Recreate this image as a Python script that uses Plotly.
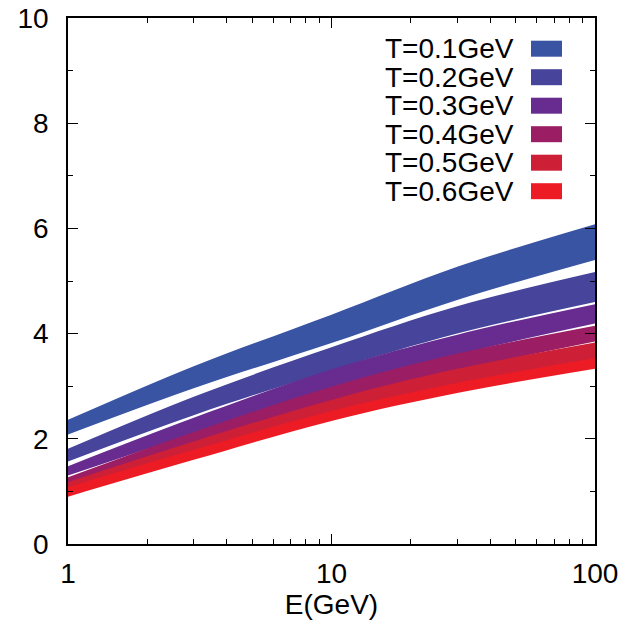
import plotly.graph_objects as go

E = [1, 3, 10, 30, 100]

labels = ["T=0.1GeV", "T=0.2GeV", "T=0.3GeV", "T=0.4GeV", "T=0.5GeV", "T=0.6GeV"]
colors = ["rgb(58,84,164)", "rgb(70,68,155)", "rgb(104,44,145)",
          "rgb(155,30,100)", "rgb(205,32,55)", "rgb(237,28,36)"]

top_01 = [2.36, 3.38, 4.36, 5.27, 6.08]
bot_01 = [2.08, 2.96, 3.82, 4.64, 5.40]
top_02 = [1.81, 2.80, 3.74, 4.52, 5.17]
bot_02 = [1.57, 2.45, 3.30, 4.00, 4.60]
top_03 = [1.48, 2.40, 3.32, 3.98, 4.56]
bot_03 = [1.30, 2.10, 2.95, 3.60, 4.19]
top_04 = [1.27, 2.13, 2.99, 3.62, 4.15]
bot_04 = [1.10, 1.90, 2.72, 3.30, 3.85]
top_05 = [1.18, 1.95, 2.74, 3.33, 3.83]
bot_05 = [1.00, 1.74, 2.48, 3.02, 3.48]
top_06 = [1.08, 1.79, 2.53, 3.06, 3.53]
bot_06 = [0.90, 1.60, 2.34, 2.87, 3.33]

tops = [top_01, top_02, top_03, top_04, top_05, top_06]
bots = [bot_01, bot_02, bot_03, bot_04, bot_05, bot_06]

FONT = "Liberation Sans, Arial, sans-serif"
fig = go.Figure()
for lab, col, t, b in zip(labels, colors, tops, bots):
    fig.add_trace(go.Scatter(x=E, y=t, mode="lines", line=dict(width=0, shape="spline", color=col),
                             showlegend=False, hoverinfo="skip"))
    fig.add_trace(go.Scatter(x=E, y=b, mode="lines", line=dict(width=0, shape="spline", color=col),
                             fill="tonexty", fillcolor=col, name=lab, showlegend=False))

# legend (text left of swatch, like the original)
row_h = 28.5 / 526.0
y0 = (544 - 48.7) / 526.0
sw_h = 16 / 526.0
for i, (lab, col) in enumerate(zip(labels, colors)):
    yc = y0 - i * row_h
    fig.add_annotation(x=(516 - 68) / 527.0, y=yc, xref="paper", yref="paper", text=lab,
                       showarrow=False, xanchor="right", yanchor="middle",
                       font=dict(family=FONT, size=28, color="black"))
    fig.add_shape(type="rect", xref="paper", yref="paper",
                  x0=(531 - 68) / 527.0, x1=(562 - 68) / 527.0,
                  y0=yc - sw_h / 2, y1=yc + sw_h / 2, fillcolor=col, line=dict(width=0))

axis_common = dict(showline=True, linecolor="black", linewidth=1.5, mirror="ticks",
                   ticks="inside", ticklen=10, tickwidth=1.3, tickcolor="black",
                   showgrid=False, zeroline=False, automargin=False,
                   tickfont=dict(family=FONT, size=28, color="black"))

fig.update_xaxes(type="log", range=[0, 2], tickvals=[1, 10, 100], ticktext=["1", "10", "100"],
                 minor=dict(ticks="inside", ticklen=5, tickwidth=1.2, tickcolor="black",
                            tickvals=[2, 3, 4, 5, 6, 7, 8, 9, 20, 30, 40, 50, 60, 70, 80, 90],
                            showgrid=False),
                 title=dict(text="E(GeV)", font=dict(family=FONT, size=28, color="black"), standoff=6),
                 ticklabelstandoff=4,
                 **axis_common)
fig.update_yaxes(range=[0, 10], tickvals=[0, 2, 4, 6, 8, 10],
                 minor=dict(ticks="inside", ticklen=5, tickwidth=1.2, tickcolor="black",
                            tickvals=[1, 3, 5, 7, 9], showgrid=False),
                 ticklabelstandoff=12,
                 **axis_common)

fig.update_layout(width=635, height=633, margin=dict(l=68, r=40, t=18, b=89),
                  plot_bgcolor="white", paper_bgcolor="white")

fig.write_html("out.html")
